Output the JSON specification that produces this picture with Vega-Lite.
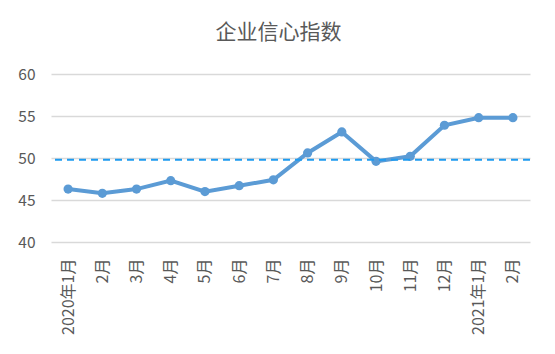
{
  "$schema": "https://vega.github.io/schema/vega-lite/v6.json",
  "width": 479,
  "height": 168,
  "autosize": {"type": "none"},
  "padding": {"left": 51, "top": 74, "right": 25, "bottom": 112},
  "background": "white",
  "title": {"text": "企业信心指数", "fontSize": 21, "font": "Noto Sans CJK SC", "fontWeight": "normal", "color": "#595959", "offset": 24, "dx": -12},
  "config": {"view": {"stroke": null}, "font": "Noto Sans CJK SC"},
  "data": {"values": [
    {"month": "2020年1月", "value": 46.3},
    {"month": "2月", "value": 45.8},
    {"month": "3月", "value": 46.3},
    {"month": "4月", "value": 47.3},
    {"month": "5月", "value": 46.0},
    {"month": "6月", "value": 46.7},
    {"month": "7月", "value": 47.4},
    {"month": "8月", "value": 50.6},
    {"month": "9月", "value": 53.1},
    {"month": "10月", "value": 49.6},
    {"month": "11月", "value": 50.2},
    {"month": "12月", "value": 53.9},
    {"month": "2021年1月", "value": 54.8},
    {"month": "2月 ", "value": 54.8}
  ]},
  "layer": [
    {
      "mark": {"type": "line", "color": "#5B9BD5", "strokeWidth": 4, "point": {"filled": true, "size": 85, "color": "#5B9BD5"}},
      "encoding": {
        "x": {"field": "month", "type": "ordinal", "sort": null, "scale": {"paddingInner": 0, "paddingOuter": 0.5},
          "axis": {"title": null, "labelAngle": 270, "labelAlign": "right", "labelBaseline": "middle", "labelFontSize": 16, "labelColor": "#595959", "ticks": false, "domain": false, "grid": false, "labelPadding": 16}},
        "y": {"field": "value", "type": "quantitative", "scale": {"domain": [40, 60], "nice": false, "zero": false},
          "axis": {"title": null, "values": [40, 45, 50, 55, 60], "labelFontSize": 15.5, "labelColor": "#595959", "ticks": false, "domain": false, "gridColor": "#D9D9D9", "gridWidth": 1.3, "labelPadding": 16}}
      }
    },
    {
      "data": {"values": [{"ref": 49.8}]},
      "mark": {"type": "rule", "color": "#1E9BF0", "strokeWidth": 2, "strokeDash": [7, 5]},
      "encoding": {"y": {"field": "ref", "type": "quantitative"}}
    }
  ]
}
